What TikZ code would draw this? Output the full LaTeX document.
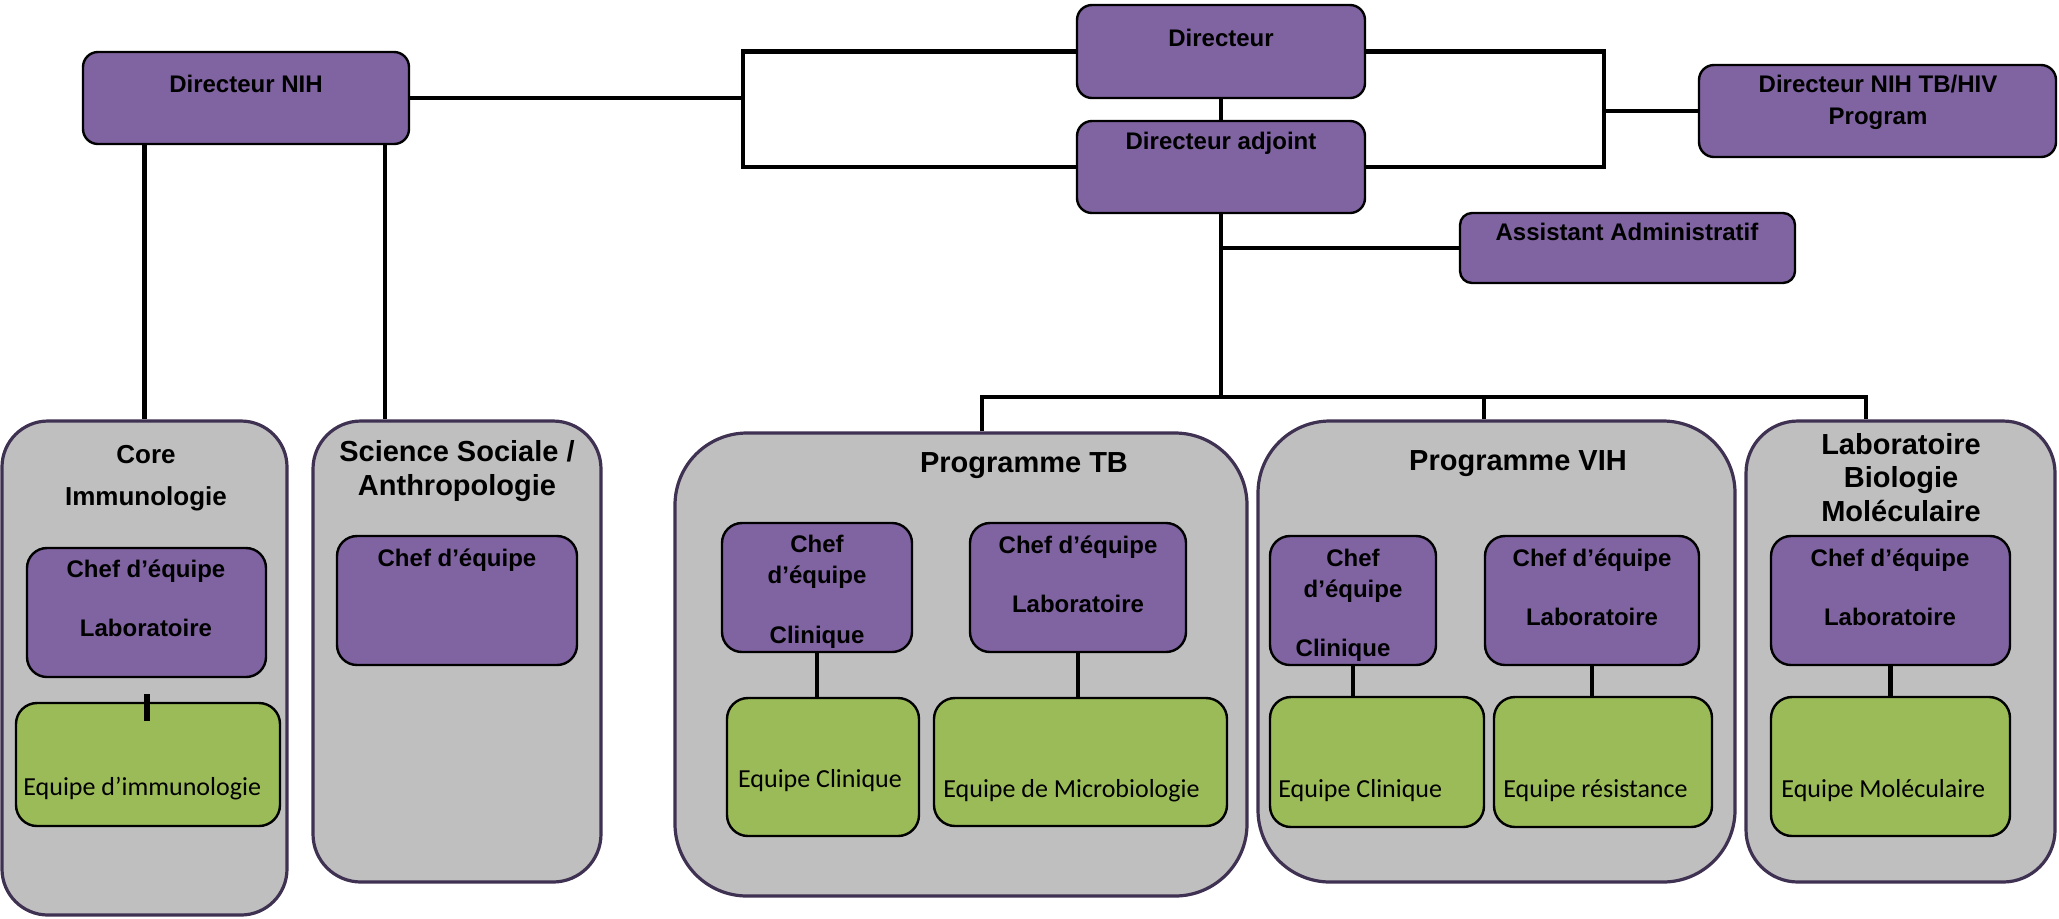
\documentclass[tikz,border=0pt]{standalone}
\usepackage{fontspec}
\setmainfont{Liberation Sans}
\newfontfamily\greenfont{Carlito}
\usetikzlibrary{fit}
\definecolor{purp}{HTML}{8064A2}
\definecolor{grn}{HTML}{9BBB59}
\definecolor{gry}{HTML}{BFBFBF}
\definecolor{gborder}{HTML}{3F3151}
\begin{document}
\begin{tikzpicture}[x=0.5pt,y=-0.5pt,
  pbox/.style={draw=black, line width=1.2pt, fill=purp, inner sep=0pt, rounded corners=10pt},
  gbox/.style={draw=black, line width=1.2pt, fill=grn, inner sep=0pt, rounded corners=10.5pt},
  cbox/.style={draw=gborder, line width=1.6pt, fill=gry, inner sep=0pt},
  conn/.style={line width=2.2pt, black},
  tb12/.style={font=\bfseries\fontsize{12}{14}\selectfont, anchor=base, inner sep=0pt},
  tb13/.style={font=\bfseries\fontsize{13}{15}\selectfont, anchor=base, inner sep=0pt},
  tbig/.style={font=\bfseries\fontsize{14.5}{17}\selectfont, anchor=base, inner sep=0pt},
  tg/.style={font=\greenfont\fontsize{13}{15}\selectfont, anchor=base west, inner sep=0pt},
  tgc/.style={font=\greenfont\fontsize{13}{15}\selectfont, anchor=base, inner sep=0pt}
]
\useasboundingbox (0,0) rectangle (2059,918);

% ---- top boxes
\node[pbox, rounded corners=7.5pt, fit={(83,52)(409,144)}] (dnih) {};
\node[pbox, rounded corners=7.5pt, fit={(1077,5)(1365,98)}] (dir) {};
\node[pbox, rounded corners=7.5pt, fit={(1077,121)(1365,213)}] (adj) {};
\node[pbox, rounded corners=7.5pt, fit={(1699,65)(2056,157)}] (tbhiv) {};
\node[pbox, rounded corners=6pt, fit={(1460,213)(1795,283)}] (asst) {};

\node[tb12] (t1) at (246,92) {Directeur NIH};
\node[tb12] (t2) at (1221,46) {Directeur};
\node[tb12] (t3) at (1221,149) {Directeur adjoint};
\node[tb12] (t4) at (1878,92) {Directeur NIH TB/HIV};
\node[tb12] (t5) at (1878,124) {Program};
\node[tb12] (t6) at (1627,240) {Assistant Administratif};

% ---- top connectors
\coordinate (lb) at (743,98);
\coordinate (rb) at (1604,111);
\draw[conn] (dnih.east) -- (lb);
\draw[conn] (dir.west) -| (lb) |- (adj.west);
\draw[conn] (dir.east) -| (rb) |- (adj.east);
\draw[conn] (rb) -- (tbhiv.west);
\draw[conn] (dir.south) -- (adj.north);
\coordinate (bus) at (1221,397);
\draw[conn] (adj.south) -- (bus);
\draw[conn] (asst.west) -- (asst.west -| adj.south);
\coordinate (busL) at (982,397);
\coordinate (busM) at (1484,397);
\coordinate (busR) at (1866,397);
\coordinate (sx) at (385,300);

% ---- containers
\node[cbox, rounded corners=23pt, fit={(2,421)(287,915)}] (core) {};
\node[cbox, rounded corners=24pt, fit={(313,421)(601,882)}] (sci) {};
\node[cbox, rounded corners=36pt, fit={(675,433)(1247,896)}] (tb) {};
\node[cbox, rounded corners=36pt, fit={(1258,421)(1735,882)}] (vih) {};
\node[cbox, rounded corners=26pt, fit={(1746,421)(2055,882)}] (lab) {};

\draw[conn] (dnih.south -| core.north) -- (core.north);
\draw[conn] (dnih.south -| sx) -- (sx |- sci.north);
\draw[conn] (busL |- tb.north) -- (busL) -- (busR) -- (busR |- lab.north);
\draw[conn] (busM) -- (busM |- vih.north);

% ---- container titles
\node[tb13] (c1) at (146,463) {Core};
\node[tb13] (c2) at (146,505) {Immunologie};
\node[tbig] (s1) at (457,461) {Science Sociale /};
\node[tbig] (s2) at (457,495) {Anthropologie};
\node[tbig] (p1) at (1024,472) {Programme TB};
\node[tbig] (p2) at (1518,470) {Programme VIH};
\node[tbig] (l1) at (1901,454) {Laboratoire};
\node[tbig] (l2) at (1901,487) {Biologie};
\node[tbig] (l3) at (1901,521) {Moléculaire};

% ---- inner boxes
\node[pbox, fit={(27,548)(266,677)}] (cchef) {};
\node[gbox, fit={(16,703)(280,826)}] (cgrn) {};
\node[pbox, fit={(337,536)(577,665)}] (schef) {};
\node[pbox, fit={(722,523)(912,652)}] (tbc) {};
\node[pbox, fit={(970,523)(1186,652)}] (tbl) {};
\node[gbox, fit={(727,698)(919,836)}] (tbce) {};
\node[gbox, fit={(934,698)(1227,826)}] (tbme) {};
\node[pbox, fit={(1270,536)(1436,665)}] (vc) {};
\node[pbox, fit={(1485,536)(1699,665)}] (vl) {};
\node[gbox, fit={(1270,697)(1484,827)}] (vce) {};
\node[gbox, fit={(1494,697)(1712,827)}] (vre) {};
\node[pbox, fit={(1771,536)(2010,665)}] (lc) {};
\node[gbox, fit={(1771,697)(2010,836)}] (lme) {};

% ---- inner connectors
\draw[line width=3pt] ([yshift=-8pt]cchef.south) -- ++(0,27);
\draw[conn] (tbc.south) -- (tbc.south |- tbce.north);
\draw[conn] (tbl.south) -- (tbl.south |- tbme.north);
\draw[conn] (vc.south) -- (vc.south |- vce.north);
\draw[conn] (vl.south) -- (vl.south |- vre.north);
\draw[conn] (lc.south) -- (lme.north);

% ---- inner texts
\node[tb12] (a1) at (146,577) {Chef d’équipe};
\node[tb12] (a2) at (146,636) {Laboratoire};
\node[tg] (a3) at (23,795) {Equipe d’immunologie};
\node[tb12] (b1) at (457,566) {Chef d’équipe};
\node[tb12] (d1) at (817,552) {Chef};
\node[tb12] (d2) at (817,583) {d’équipe};
\node[tb12] (d3) at (817,643) {Clinique};
\node[tb12] (e1) at (1078,553) {Chef d’équipe};
\node[tb12] (e2) at (1078,612) {Laboratoire};
\node[tgc] (f1) at (820,787) {Equipe Clinique};
\node[tg] (f2) at (943,797) {Equipe de Microbiologie};
\node[tb12] (g1) at (1353,566) {Chef};
\node[tb12] (g2) at (1353,597) {d’équipe};
\node[tb12] (g3) at (1343,656) {Clinique};
\node[tb12] (h1) at (1592,566) {Chef d’équipe};
\node[tb12] (h2) at (1592,625) {Laboratoire};
\node[tg] (i1) at (1278,797) {Equipe Clinique};
\node[tg] (i2) at (1503,797) {Equipe résistance};
\node[tb12] (j1) at (1890,566) {Chef d’équipe};
\node[tb12] (j2) at (1890,625) {Laboratoire};
\node[tg] (j3) at (1781,797) {Equipe Moléculaire};
\end{tikzpicture}
\end{document}
